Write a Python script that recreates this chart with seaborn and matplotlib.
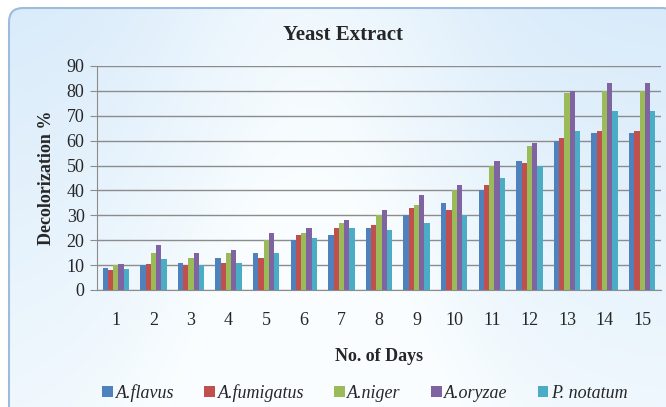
import numpy as np
import pandas as pd
import matplotlib
matplotlib.use("Agg")
import matplotlib.pyplot as plt
import seaborn as sns
from matplotlib.patches import FancyBboxPatch

# values
days = list(range(1, 16))
flavus = [9, 10, 11, 13, 15, 20, 22, 25, 30, 35, 40, 52, 60, 63, 63]
fumigatus = [8, 10.5, 10, 11, 13, 22, 25, 26, 33, 32, 42, 51, 61, 64, 64]
niger = [10, 15, 13, 15, 20, 23, 27, 30, 34, 40, 50, 58, 79, 80, 80]
oryzae = [10.5, 18, 15, 16, 23, 25, 28, 32, 38, 42, 52, 59, 80, 83, 83]
notatum = [8.5, 12.5, 10, 11, 15, 21, 25, 24, 27, 30, 45, 50, 64, 72, 72]
species = ["A.flavus", "A.fumigatus", "A.niger", "A.oryzae", "P. notatum"]
colors = ["#4F81BD", "#C0504D", "#9BBB59", "#8064A2", "#4BACC6"]

rows = []
for name, vals in zip(species, [flavus, fumigatus, niger, oryzae, notatum]):
    for d, v in zip(days, vals):
        rows.append({"day": str(d), "species": name, "value": v})
df = pd.DataFrame(rows)

sns.set_style("white")
plt.rcParams["font.family"] = ["Liberation Serif", "DejaVu Serif"]

fig = plt.figure(figsize=(6.66, 4.07), dpi=100)
fig.patch.set_facecolor("white")

# light blue rounded panel behind the chart
bg = fig.add_axes([0, 0, 1, 1], zorder=0)
bg.set_xlim(0, 666)
bg.set_ylim(407, 0)
bg.axis("off")
xx = np.linspace(0, 1, 300)
yy = np.linspace(0, 1, 200)
X, Y = np.meshgrid(xx, yy)
shade = 0.35 + 0.45 * np.exp(-((X - 0.45) ** 2) / 0.06) + 0.45 * Y
shade = np.clip(shade, 0, 1)
top = np.array([0.78, 0.88, 0.97])
light = np.array([0.98, 0.995, 1.0])
img = top + (light - top) * shade[..., None]
im = bg.imshow(img, extent=(9, 676, 420, 8), aspect="auto", interpolation="bilinear")
panel = FancyBboxPatch((9, 8), 667, 420, boxstyle="round,pad=0,rounding_size=14",
                       transform=bg.transData, facecolor="none", edgecolor="#9DBBDA", lw=1.5)
bg.add_patch(panel)
im.set_clip_path(panel)

ax = fig.add_axes([97 / 666, 1 - 290 / 407, (661 - 97) / 666, (290 - 66) / 407], zorder=1)
ax.patch.set_alpha(0)
sns.barplot(data=df, x="day", y="value", hue="species", palette=colors,
            width=0.7, ax=ax, saturation=1, edgecolor="none", legend=True)

ax.set_ylim(0, 90)
ax.set_yticks(range(0, 91, 10))
ax.set_xlim(-0.5, 14.5)
ax.yaxis.grid(True, color="#8C8C8C", lw=1)
ax.set_axisbelow(True)
for s in ["top", "right"]:
    ax.spines[s].set_visible(False)
ax.spines["left"].set_color("#8C8C8C")
ax.spines["bottom"].set_color("#8C8C8C")
ax.tick_params(axis="y", left=True, length=5, color="#8C8C8C", labelsize=13, pad=4)
ax.tick_params(axis="x", bottom=False, labelsize=13, pad=12)

ax.set_xlabel("No. of Days", fontsize=13, fontweight="bold", labelpad=14)
ax.set_ylabel("Decolorization %", fontsize=13, fontweight="bold", labelpad=8)
fig.text(0.515, 0.915, "Yeast Extract", ha="center", va="center",
         fontsize=15, fontweight="bold")

handles, labels = ax.get_legend_handles_labels()
ax.legend_.remove()
fig.legend(handles, labels, loc="center", bbox_to_anchor=(0.548, 0.035), ncol=5,
           frameon=False, prop={"style": "italic", "size": 13},
           handlelength=0.6, handleheight=0.6, handletextpad=0.15, columnspacing=1.65)

fig.savefig("out.png", dpi=100)
